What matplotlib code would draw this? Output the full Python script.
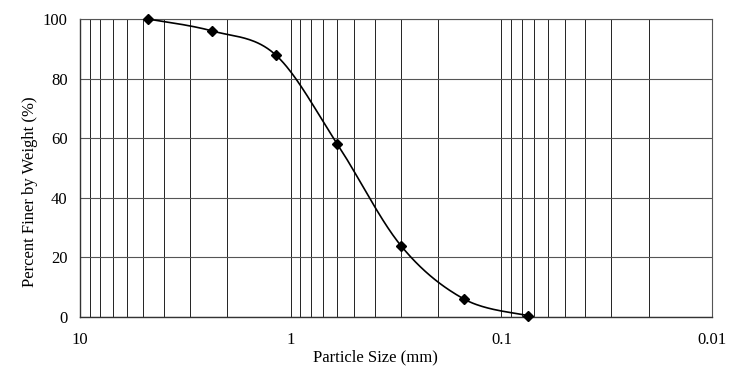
"""
Particle size distribution curve (sieve analysis), log x-axis reversed.
"""

import numpy as np
from matplotlib import pyplot as plt

# sieve data
sieve_size_mm = [4.75, 2.36, 1.18, 0.6, 0.3, 0.15, 0.075]
percent_finer = [100, 96, 88, 58, 24, 6, 0.5]

x_ticks = [10, 1, 0.1, 0.01]
x_tick_labels = ["10", "1", "0.1", "0.01"]
y_ticks = [0, 20, 40, 60, 80, 100]

plt.rcParams['font.family'] = ['Liberation Serif', 'DejaVu Serif']


def smooth_curve(xs, ys, scale_u, scale_v, n=40):
    """Excel-like smoothed line: Catmull-Rom Bezier in screen-like space (log x)."""
    u = np.log10(xs) * scale_u
    v = np.asarray(ys, dtype=float) * scale_v
    pts = np.column_stack([u, v])
    out = []
    for i in range(len(pts) - 1):
        p0 = pts[i - 1] if i > 0 else pts[i]
        p1 = pts[i]
        p2 = pts[i + 1]
        p3 = pts[i + 2] if i + 2 < len(pts) else pts[i + 1]
        c1 = p1 + (p2 - p0) / 6
        c2 = p2 - (p3 - p1) / 6
        t = np.linspace(0, 1, n)[:, None]
        seg = ((1 - t) ** 3) * p1 + 3 * ((1 - t) ** 2) * t * c1 + 3 * (1 - t) * t ** 2 * c2 + t ** 3 * p2
        out.append(seg if i == 0 else seg[1:])
    out = np.vstack(out)
    return 10 ** (out[:, 0] / scale_u), out[:, 1] / scale_v


fig = plt.figure(figsize=(7.5, 3.73), dpi=100)
ax = fig.add_axes([0.1067, 0.150, 0.8426, 0.799])

ax.set_xscale('log')
ax.set_xlim(10, 0.01)
ax.set_ylim(0, 100)

ax.set_xticks(x_ticks)
ax.set_xticklabels(x_tick_labels)
ax.set_yticks(y_ticks)
ax.tick_params(axis='both', which='both', length=0, labelsize=12, colors='black')
ax.tick_params(axis='y', pad=9)
ax.tick_params(axis='x', pad=11)

ax.grid(True, which='major', axis='y', color='#555555', linewidth=0.8)
ax.grid(True, which='both', axis='x', color='#222222', linewidth=0.7)
ax.minorticks_on()
ax.yaxis.set_minor_locator(plt.NullLocator())
ax.tick_params(axis='x', which='minor', length=0)

for side in ['top', 'right']:
    ax.spines[side].set_color('#555555')
    ax.spines[side].set_linewidth(0.8)
for side in ['left', 'bottom']:
    ax.spines[side].set_color('#333333')
    ax.spines[side].set_linewidth(1.0)

cx, cy = smooth_curve(sieve_size_mm, percent_finer, 210.7, 2.98)
ax.plot(cx, cy, color='black', linewidth=1.2, zorder=3)
ax.plot(sieve_size_mm, percent_finer, linestyle='none', marker='D', markersize=5,
        color='black', zorder=4, clip_on=False)

ax.set_xlabel("Particle Size (mm)", fontsize=12, va='center')
ax.set_ylabel("Percent Finer by Weight (%)", fontsize=12, va='center')
ax.xaxis.set_label_coords(0.468, -0.134)
ax.yaxis.set_label_coords(-0.079, 0.42)

fig.savefig("out.png", dpi=100, facecolor='white')
